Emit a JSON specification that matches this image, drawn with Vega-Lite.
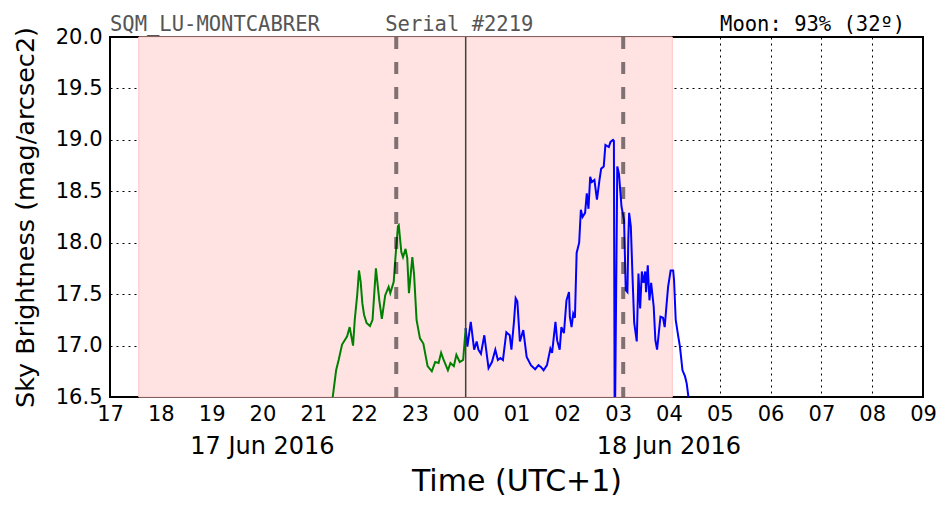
{
  "$schema": "https://vega.github.io/schema/vega-lite/v6.json",
  "width": 813,
  "height": 360,
  "autosize": {"type": "none"},
  "padding": {"left": 110, "top": 37, "right": 29, "bottom": 115},
  "background": "white",
  "config": {
    "view": {"stroke": "black", "strokeWidth": 2},
    "font": "DejaVu Sans"
  },
  "datasets": {
    "sky": [
      {"t": "2016-06-17T21:20:00Z", "v": 16.30, "series": "before"},
      {"t": "2016-06-17T21:23:00Z", "v": 16.50, "series": "before"},
      {"t": "2016-06-17T21:27:00Z", "v": 16.76, "series": "before"},
      {"t": "2016-06-17T21:30:00Z", "v": 16.86, "series": "before"},
      {"t": "2016-06-17T21:34:00Z", "v": 17.01, "series": "before"},
      {"t": "2016-06-17T21:37:00Z", "v": 17.05, "series": "before"},
      {"t": "2016-06-17T21:40:00Z", "v": 17.09, "series": "before"},
      {"t": "2016-06-17T21:43:00Z", "v": 17.18, "series": "before"},
      {"t": "2016-06-17T21:47:00Z", "v": 17.00, "series": "before"},
      {"t": "2016-06-17T21:49:00Z", "v": 17.25, "series": "before"},
      {"t": "2016-06-17T21:52:00Z", "v": 17.50, "series": "before"},
      {"t": "2016-06-17T21:54:00Z", "v": 17.73, "series": "before"},
      {"t": "2016-06-17T21:56:00Z", "v": 17.62, "series": "before"},
      {"t": "2016-06-17T21:58:00Z", "v": 17.41, "series": "before"},
      {"t": "2016-06-17T22:00:00Z", "v": 17.30, "series": "before"},
      {"t": "2016-06-17T22:03:00Z", "v": 17.22, "series": "before"},
      {"t": "2016-06-17T22:07:00Z", "v": 17.19, "series": "before"},
      {"t": "2016-06-17T22:10:00Z", "v": 17.25, "series": "before"},
      {"t": "2016-06-17T22:14:00Z", "v": 17.75, "series": "before"},
      {"t": "2016-06-17T22:18:00Z", "v": 17.44, "series": "before"},
      {"t": "2016-06-17T22:21:00Z", "v": 17.26, "series": "before"},
      {"t": "2016-06-17T22:25:00Z", "v": 17.49, "series": "before"},
      {"t": "2016-06-17T22:29:00Z", "v": 17.57, "series": "before"},
      {"t": "2016-06-17T22:31:00Z", "v": 17.51, "series": "before"},
      {"t": "2016-06-17T22:35:00Z", "v": 17.62, "series": "before"},
      {"t": "2016-06-17T22:37:00Z", "v": 17.85, "series": "before"},
      {"t": "2016-06-17T22:40:00Z", "v": 18.16, "series": "before"},
      {"t": "2016-06-17T22:41:00Z", "v": 18.17, "series": "before"},
      {"t": "2016-06-17T22:44:00Z", "v": 17.91, "series": "before"},
      {"t": "2016-06-17T22:46:00Z", "v": 17.86, "series": "before"},
      {"t": "2016-06-17T22:49:00Z", "v": 17.94, "series": "before"},
      {"t": "2016-06-17T22:51:00Z", "v": 17.85, "series": "before"},
      {"t": "2016-06-17T22:53:00Z", "v": 17.51, "series": "before"},
      {"t": "2016-06-17T22:57:00Z", "v": 17.86, "series": "before"},
      {"t": "2016-06-17T22:59:00Z", "v": 17.70, "series": "before"},
      {"t": "2016-06-17T23:02:00Z", "v": 17.25, "series": "before"},
      {"t": "2016-06-17T23:06:00Z", "v": 17.07, "series": "before"},
      {"t": "2016-06-17T23:10:00Z", "v": 17.02, "series": "before"},
      {"t": "2016-06-17T23:15:00Z", "v": 16.80, "series": "before"},
      {"t": "2016-06-17T23:20:00Z", "v": 16.75, "series": "before"},
      {"t": "2016-06-17T23:24:00Z", "v": 16.84, "series": "before"},
      {"t": "2016-06-17T23:28:00Z", "v": 16.83, "series": "before"},
      {"t": "2016-06-17T23:31:00Z", "v": 16.93, "series": "before"},
      {"t": "2016-06-17T23:34:00Z", "v": 16.86, "series": "before"},
      {"t": "2016-06-17T23:39:00Z", "v": 16.76, "series": "before"},
      {"t": "2016-06-17T23:42:00Z", "v": 16.83, "series": "before"},
      {"t": "2016-06-17T23:46:00Z", "v": 16.80, "series": "before"},
      {"t": "2016-06-17T23:49:00Z", "v": 16.91, "series": "before"},
      {"t": "2016-06-17T23:53:00Z", "v": 16.84, "series": "before"},
      {"t": "2016-06-17T23:57:00Z", "v": 16.86, "series": "before"},
      {"t": "2016-06-18T00:00:00Z", "v": 17.17, "series": "before"},
      {"t": "2016-06-18T00:00:00Z", "v": 17.17, "series": "after"},
      {"t": "2016-06-18T00:02:00Z", "v": 16.99, "series": "after"},
      {"t": "2016-06-18T00:06:00Z", "v": 17.23, "series": "after"},
      {"t": "2016-06-18T00:10:00Z", "v": 16.96, "series": "after"},
      {"t": "2016-06-18T00:13:00Z", "v": 17.04, "series": "after"},
      {"t": "2016-06-18T00:15:00Z", "v": 16.96, "series": "after"},
      {"t": "2016-06-18T00:18:00Z", "v": 16.92, "series": "after"},
      {"t": "2016-06-18T00:22:00Z", "v": 17.10, "series": "after"},
      {"t": "2016-06-18T00:24:00Z", "v": 16.97, "series": "after"},
      {"t": "2016-06-18T00:27:00Z", "v": 16.78, "series": "after"},
      {"t": "2016-06-18T00:31:00Z", "v": 16.84, "series": "after"},
      {"t": "2016-06-18T00:35:00Z", "v": 16.96, "series": "after"},
      {"t": "2016-06-18T00:38:00Z", "v": 16.86, "series": "after"},
      {"t": "2016-06-18T00:41:00Z", "v": 16.88, "series": "after"},
      {"t": "2016-06-18T00:44:00Z", "v": 16.86, "series": "after"},
      {"t": "2016-06-18T00:48:00Z", "v": 17.13, "series": "after"},
      {"t": "2016-06-18T00:52:00Z", "v": 17.10, "series": "after"},
      {"t": "2016-06-18T00:54:00Z", "v": 16.96, "series": "after"},
      {"t": "2016-06-18T00:57:00Z", "v": 17.23, "series": "after"},
      {"t": "2016-06-18T00:59:00Z", "v": 17.46, "series": "after"},
      {"t": "2016-06-18T01:01:00Z", "v": 17.43, "series": "after"},
      {"t": "2016-06-18T01:04:00Z", "v": 17.04, "series": "after"},
      {"t": "2016-06-18T01:08:00Z", "v": 17.15, "series": "after"},
      {"t": "2016-06-18T01:12:00Z", "v": 16.89, "series": "after"},
      {"t": "2016-06-18T01:17:00Z", "v": 16.81, "series": "after"},
      {"t": "2016-06-18T01:22:00Z", "v": 16.77, "series": "after"},
      {"t": "2016-06-18T01:26:00Z", "v": 16.81, "series": "after"},
      {"t": "2016-06-18T01:29:00Z", "v": 16.79, "series": "after"},
      {"t": "2016-06-18T01:32:00Z", "v": 16.76, "series": "after"},
      {"t": "2016-06-18T01:36:00Z", "v": 16.81, "series": "after"},
      {"t": "2016-06-18T01:40:00Z", "v": 16.97, "series": "after"},
      {"t": "2016-06-18T01:42:00Z", "v": 16.93, "series": "after"},
      {"t": "2016-06-18T01:46:00Z", "v": 17.23, "series": "after"},
      {"t": "2016-06-18T01:48:00Z", "v": 17.05, "series": "after"},
      {"t": "2016-06-18T01:51:00Z", "v": 16.96, "series": "after"},
      {"t": "2016-06-18T01:53:00Z", "v": 17.18, "series": "after"},
      {"t": "2016-06-18T01:56:00Z", "v": 17.12, "series": "after"},
      {"t": "2016-06-18T01:59:00Z", "v": 17.44, "series": "after"},
      {"t": "2016-06-18T02:02:00Z", "v": 17.52, "series": "after"},
      {"t": "2016-06-18T02:03:00Z", "v": 17.28, "series": "after"},
      {"t": "2016-06-18T02:05:00Z", "v": 17.18, "series": "after"},
      {"t": "2016-06-18T02:07:00Z", "v": 17.31, "series": "after"},
      {"t": "2016-06-18T02:09:00Z", "v": 17.27, "series": "after"},
      {"t": "2016-06-18T02:11:00Z", "v": 17.90, "series": "after"},
      {"t": "2016-06-18T02:14:00Z", "v": 18.00, "series": "after"},
      {"t": "2016-06-18T02:16:00Z", "v": 18.32, "series": "after"},
      {"t": "2016-06-18T02:18:00Z", "v": 18.25, "series": "after"},
      {"t": "2016-06-18T02:21:00Z", "v": 18.29, "series": "after"},
      {"t": "2016-06-18T02:23:00Z", "v": 18.48, "series": "after"},
      {"t": "2016-06-18T02:25:00Z", "v": 18.33, "series": "after"},
      {"t": "2016-06-18T02:27:00Z", "v": 18.64, "series": "after"},
      {"t": "2016-06-18T02:29:00Z", "v": 18.59, "series": "after"},
      {"t": "2016-06-18T02:32:00Z", "v": 18.61, "series": "after"},
      {"t": "2016-06-18T02:35:00Z", "v": 18.42, "series": "after"},
      {"t": "2016-06-18T02:38:00Z", "v": 18.61, "series": "after"},
      {"t": "2016-06-18T02:40:00Z", "v": 18.72, "series": "after"},
      {"t": "2016-06-18T02:43:00Z", "v": 18.74, "series": "after"},
      {"t": "2016-06-18T02:45:00Z", "v": 18.95, "series": "after"},
      {"t": "2016-06-18T02:49:00Z", "v": 18.93, "series": "after"},
      {"t": "2016-06-18T02:51:00Z", "v": 18.98, "series": "after"},
      {"t": "2016-06-18T02:54:00Z", "v": 19.00, "series": "after"},
      {"t": "2016-06-18T02:55:00Z", "v": 18.99, "series": "after"},
      {"t": "2016-06-18T02:56:00Z", "v": 16.00, "series": "after"},
      {"t": "2016-06-18T02:59:00Z", "v": 18.74, "series": "after"},
      {"t": "2016-06-18T03:01:00Z", "v": 18.67, "series": "after"},
      {"t": "2016-06-18T03:04:00Z", "v": 18.35, "series": "after"},
      {"t": "2016-06-18T03:07:00Z", "v": 18.22, "series": "after"},
      {"t": "2016-06-18T03:09:00Z", "v": 17.54, "series": "after"},
      {"t": "2016-06-18T03:11:00Z", "v": 17.52, "series": "after"},
      {"t": "2016-06-18T03:12:00Z", "v": 18.03, "series": "after"},
      {"t": "2016-06-18T03:13:00Z", "v": 18.29, "series": "after"},
      {"t": "2016-06-18T03:15:00Z", "v": 18.16, "series": "after"},
      {"t": "2016-06-18T03:17:00Z", "v": 17.67, "series": "after"},
      {"t": "2016-06-18T03:19:00Z", "v": 17.22, "series": "after"},
      {"t": "2016-06-18T03:22:00Z", "v": 17.04, "series": "after"},
      {"t": "2016-06-18T03:24:00Z", "v": 17.70, "series": "after"},
      {"t": "2016-06-18T03:26:00Z", "v": 17.36, "series": "after"},
      {"t": "2016-06-18T03:28:00Z", "v": 17.72, "series": "after"},
      {"t": "2016-06-18T03:30:00Z", "v": 17.61, "series": "after"},
      {"t": "2016-06-18T03:32:00Z", "v": 17.72, "series": "after"},
      {"t": "2016-06-18T03:33:00Z", "v": 17.52, "series": "after"},
      {"t": "2016-06-18T03:35:00Z", "v": 17.78, "series": "after"},
      {"t": "2016-06-18T03:37:00Z", "v": 17.44, "series": "after"},
      {"t": "2016-06-18T03:39:00Z", "v": 17.61, "series": "after"},
      {"t": "2016-06-18T03:42:00Z", "v": 17.38, "series": "after"},
      {"t": "2016-06-18T03:44:00Z", "v": 17.05, "series": "after"},
      {"t": "2016-06-18T03:46:00Z", "v": 16.96, "series": "after"},
      {"t": "2016-06-18T03:48:00Z", "v": 17.12, "series": "after"},
      {"t": "2016-06-18T03:50:00Z", "v": 17.28, "series": "after"},
      {"t": "2016-06-18T03:53:00Z", "v": 17.27, "series": "after"},
      {"t": "2016-06-18T03:55:00Z", "v": 17.18, "series": "after"},
      {"t": "2016-06-18T03:57:00Z", "v": 17.38, "series": "after"},
      {"t": "2016-06-18T03:59:00Z", "v": 17.57, "series": "after"},
      {"t": "2016-06-18T04:02:00Z", "v": 17.73, "series": "after"},
      {"t": "2016-06-18T04:05:00Z", "v": 17.73, "series": "after"},
      {"t": "2016-06-18T04:06:00Z", "v": 17.64, "series": "after"},
      {"t": "2016-06-18T04:08:00Z", "v": 17.25, "series": "after"},
      {"t": "2016-06-18T04:11:00Z", "v": 17.09, "series": "after"},
      {"t": "2016-06-18T04:13:00Z", "v": 16.99, "series": "after"},
      {"t": "2016-06-18T04:16:00Z", "v": 16.76, "series": "after"},
      {"t": "2016-06-18T04:19:00Z", "v": 16.70, "series": "after"},
      {"t": "2016-06-18T04:21:00Z", "v": 16.63, "series": "after"},
      {"t": "2016-06-18T04:23:00Z", "v": 16.50, "series": "after"},
      {"t": "2016-06-18T04:25:00Z", "v": 16.35, "series": "after"}
    ]
  },
  "layer": [
    {
      "data": {"values": [{"start": "2016-06-17T17:34:00Z", "end": "2016-06-18T04:04:00Z"}]},
      "mark": {"type": "rect", "color": "#ffe3e3", "stroke": "#ffc4c4", "strokeWidth": 1},
      "encoding": {
        "x": {"field": "start", "type": "temporal"},
        "x2": {"field": "end"}
      }
    },
    {
      "data": {"name": "sky"},
      "mark": {"type": "line", "strokeWidth": 2, "clip": true},
      "encoding": {
        "x": {
          "field": "t",
          "type": "temporal",
          "scale": {"type": "utc", "domain": [{"year": 2016, "month": 6, "date": 17, "hours": 17, "utc": true}, {"year": 2016, "month": 6, "date": 18, "hours": 9, "utc": true}], "nice": false},
          "axis": {
            "title": "Time (UTC+1)",
            "titleFontSize": 30,
            "titleFontWeight": "normal",
            "titleColor": "black",
            "titlePadding": 42,
            "format": "%H",
            "values": [
              {"year": 2016, "month": 6, "date": 17, "hours": 17, "utc": true},
              {"year": 2016, "month": 6, "date": 17, "hours": 18, "utc": true},
              {"year": 2016, "month": 6, "date": 17, "hours": 19, "utc": true},
              {"year": 2016, "month": 6, "date": 17, "hours": 20, "utc": true},
              {"year": 2016, "month": 6, "date": 17, "hours": 21, "utc": true},
              {"year": 2016, "month": 6, "date": 17, "hours": 22, "utc": true},
              {"year": 2016, "month": 6, "date": 17, "hours": 23, "utc": true},
              {"year": 2016, "month": 6, "date": 18, "hours": 0, "utc": true},
              {"year": 2016, "month": 6, "date": 18, "hours": 1, "utc": true},
              {"year": 2016, "month": 6, "date": 18, "hours": 2, "utc": true},
              {"year": 2016, "month": 6, "date": 18, "hours": 3, "utc": true},
              {"year": 2016, "month": 6, "date": 18, "hours": 4, "utc": true},
              {"year": 2016, "month": 6, "date": 18, "hours": 5, "utc": true},
              {"year": 2016, "month": 6, "date": 18, "hours": 6, "utc": true},
              {"year": 2016, "month": 6, "date": 18, "hours": 7, "utc": true},
              {"year": 2016, "month": 6, "date": 18, "hours": 8, "utc": true},
              {"year": 2016, "month": 6, "date": 18, "hours": 9, "utc": true}
            ],
            "labelFontSize": 21,
            "labelColor": "black",
            "labelPadding": 6,
            "labelFlush": false,
            "labelOverlap": false,
            "labelBaseline": "top",
            "ticks": false,
            "domain": false,
            "grid": true,
            "gridColor": "black",
            "gridDash": [2, 4],
            "gridWidth": 1,
            "gridOpacity": 1
          }
        },
        "y": {
          "field": "v",
          "type": "quantitative",
          "scale": {"domain": [16.5, 20], "nice": false, "zero": false},
          "axis": {
            "title": "Sky Brightness (mag/arcsec2)",
            "titleFontSize": 25.5,
            "titleFontWeight": "normal",
            "titleColor": "black",
            "titlePadding": 17,
            "values": [16.5, 17, 17.5, 18, 18.5, 19, 19.5, 20],
            "format": ".1f",
            "labelFontSize": 21,
            "labelColor": "black",
            "labelPadding": 8,
            "labelFlush": false,
            "labelOverlap": false,
            "ticks": false,
            "domain": false,
            "grid": true,
            "gridColor": "black",
            "gridDash": [2, 4],
            "gridWidth": 1,
            "gridOpacity": 1
          }
        },
        "color": {
          "field": "series",
          "type": "nominal",
          "scale": {"domain": ["before", "after"], "range": ["#008000", "#0000ff"]},
          "legend": null
        }
      }
    },
    {
      "data": {"values": [{"t": "2016-06-17T22:38:00Z"}, {"t": "2016-06-18T03:06:00Z"}]},
      "mark": {"type": "rule", "color": "black", "opacity": 0.5, "strokeWidth": 4, "strokeDash": [12, 13]},
      "encoding": {
        "x": {"field": "t", "type": "temporal"}
      }
    },
    {
      "data": {"values": [{"t": "2016-06-18T00:00:00Z"}]},
      "mark": {"type": "rule", "color": "#404040", "strokeWidth": 1.5},
      "encoding": {
        "x": {"field": "t", "type": "temporal"}
      }
    },
    {
      "data": {"values": [{"label": "17 Jun 2016", "t": "2016-06-17T20:00:00Z", "v": 16.5}, {"label": "18 Jun 2016", "t": "2016-06-18T04:00:00Z", "v": 16.5}]},
      "mark": {"type": "text", "align": "center", "baseline": "top", "dy": 38, "fontSize": 24, "color": "black", "clip": false},
      "encoding": {
        "x": {"field": "t", "type": "temporal"},
        "y": {"field": "v", "type": "quantitative"},
        "text": {"field": "label"}
      }
    },
    {
      "data": {"values": [{"label": "SQM_LU-MONTCABRER", "t": "2016-06-17T17:00:00Z", "v": 20}, {"label": "Serial #2219", "t": "2016-06-17T22:25:00Z", "v": 20}]},
      "mark": {"type": "text", "align": "left", "baseline": "alphabetic", "dy": -6.5, "font": "DejaVu Sans Mono", "fontSize": 20.5, "color": "#555555", "clip": false},
      "encoding": {
        "x": {"field": "t", "type": "temporal"},
        "y": {"field": "v", "type": "quantitative"},
        "text": {"field": "label"}
      }
    },
    {
      "data": {"values": [{"label": "Moon: 93% (32º)", "t": "2016-06-18T08:39:00Z", "v": 20}]},
      "mark": {"type": "text", "align": "right", "baseline": "alphabetic", "dy": -6, "font": "DejaVu Sans Mono", "fontSize": 20.5, "color": "black", "clip": false},
      "encoding": {
        "x": {"field": "t", "type": "temporal"},
        "y": {"field": "v", "type": "quantitative"},
        "text": {"field": "label"}
      }
    }
  ]
}
